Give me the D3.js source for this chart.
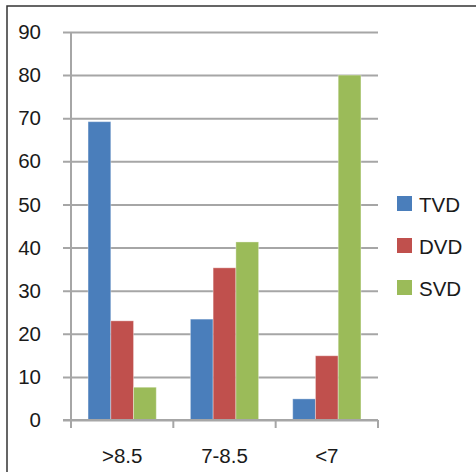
<!DOCTYPE html>
<html>
<head>
<meta charset="utf-8">
<script src="https://cdn.jsdelivr.net/npm/d3@7/dist/d3.min.js"></script>
<style>
  html, body { margin: 0; padding: 0; background: #fff; }
  svg { display: block; }
  text { font-family: "Liberation Sans", Arial, sans-serif; fill: #1a1a1a; }
</style>
</head>
<body>
<svg id="chart" width="476" height="472"></svg>
<script>
// Groups along the x axis
const categories = [">8.5", "7-8.5", "<7"];
// Series names and colours
const seriesNames = ["TVD", "DVD", "SVD"];
const seriesColors = ["#4a7ebb", "#c0504d", "#9bbb59"];
// Values per series, in category order
const tvd = [69.2, 23.4, 4.9];
const dvd = [23.0, 35.3, 14.9];
const svd = [7.6, 41.3, 80.0];
// Y axis ticks
const yTicks = [0, 10, 20, 30, 40, 50, 60, 70, 80, 90];

const seriesValues = [tvd, dvd, svd];
const rows = categories.map((c, i) => ({
  category: c,
  values: seriesNames.map((s, j) => ({ series: s, value: seriesValues[j][i], color: seriesColors[j] }))
}));

const svg = d3.select("#chart");
const plot = { left: 71, right: 378, top: 32, bottom: 420 };
const fontSize = 20.5;

// outer frame
svg.append("rect")
  .attr("x", 7).attr("y", 6)
  .attr("width", 476).attr("height", 480)
  .attr("fill", "none").attr("stroke", "#333").attr("stroke-width", 1.5);

const x = d3.scaleBand().domain(categories).range([plot.left, plot.right]).paddingInner(0).paddingOuter(0);
const xInner = d3.scaleBand().domain(seriesNames).range([0, x.bandwidth()]).paddingOuter(0.75).paddingInner(0);
const y = d3.scaleLinear().domain([0, 90]).range([plot.bottom, plot.top]);

const gridColor = "#a6a6a6";

// horizontal gridlines with short ticks on the left
const yAxis = d3.axisLeft(y).tickValues(yTicks).tickSize(plot.right - plot.left + 8).tickPadding(22).tickFormat(d3.format("d"));
const gy = svg.append("g").attr("transform", `translate(${plot.right},0)`).call(yAxis);
gy.select(".domain").remove();
gy.selectAll(".tick line").attr("stroke", gridColor).attr("stroke-width", 2);
gy.selectAll(".tick text").attr("font-size", fontSize).attr("fill", "#1a1a1a")
  .attr("font-family", "Liberation Sans, Arial, sans-serif");

// vertical axis line
svg.append("line")
  .attr("x1", plot.left).attr("x2", plot.left)
  .attr("y1", plot.top).attr("y2", plot.bottom + 8)
  .attr("stroke", gridColor).attr("stroke-width", 2);

// bars
const groups = svg.append("g").selectAll("g").data(rows).join("g")
  .attr("transform", d => `translate(${x(d.category)},0)`);
groups.selectAll("rect").data(d => d.values).join("rect")
  .attr("x", d => xInner(d.series))
  .attr("width", xInner.bandwidth())
  .attr("y", d => y(d.value))
  .attr("height", d => y(0) - y(d.value))
  .attr("fill", d => d.color)
  .attr("stroke", "rgba(255,255,255,0.35)")
  .attr("stroke-width", 1);

// x axis with category boundary ticks
const xAxisG = svg.append("g");
xAxisG.append("line")
  .attr("x1", plot.left - 8).attr("x2", plot.right)
  .attr("y1", plot.bottom).attr("y2", plot.bottom)
  .attr("stroke", gridColor).attr("stroke-width", 2);
const bounds = categories.map(c => x(c)).concat([plot.right]);
xAxisG.selectAll("line.bound").data(bounds).join("line")
  .attr("class", "bound")
  .attr("x1", d => d).attr("x2", d => d)
  .attr("y1", plot.bottom).attr("y2", plot.bottom + 8)
  .attr("stroke", gridColor).attr("stroke-width", 2);
xAxisG.selectAll("text").data(categories).join("text")
  .attr("x", d => x(d) + x.bandwidth() / 2)
  .attr("y", 463)
  .attr("text-anchor", "middle")
  .attr("font-size", fontSize)
  .text(d => d);

// legend
const legend = svg.append("g").selectAll("g").data(seriesNames).join("g")
  .attr("transform", (d, i) => `translate(397,${196 + i * 42})`);
legend.append("rect")
  .attr("width", 15).attr("height", 15)
  .attr("fill", (d, i) => seriesColors[i]);
legend.append("text")
  .attr("x", 22).attr("y", 15.5)
  .attr("font-size", fontSize)
  .text(d => d);
</script>
</body>
</html>
